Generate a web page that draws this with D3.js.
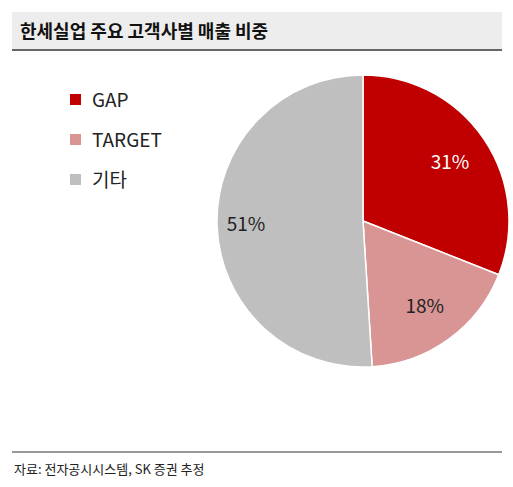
<!DOCTYPE html><html><head><meta charset="utf-8"><script src="https://cdn.jsdelivr.net/npm/d3@7"></script>
<style>body{margin:0;background:#fff}</style></head><body><svg id="c" width="513" height="487"></svg>
<script>
const categories=["GAP","TARGET","기타"];
const values=[31,18,51];
const labels=["31%","18%","51%"];
const colors=["#c00000","#d99594","#bfbfbf"];
const svg=d3.select("#c");
const font="'Noto Sans CJK KR','Noto Sans',sans-serif";
svg.append("rect").attr("x",12).attr("y",12).attr("width",490).attr("height",37).attr("fill","#ededed");
svg.append("line").attr("x1",12).attr("x2",502).attr("y1",50).attr("y2",50).attr("stroke","#333").attr("stroke-width",1.5);
svg.append("text").attr("x",20).attr("y",38).text("한세실업 주요 고객사별 매출 비중").attr("font-family",font).attr("font-weight","bold").attr("font-size",18).attr("fill","#111");
svg.append("line").attr("x1",12).attr("x2",502).attr("y1",452).attr("y2",452).attr("stroke","#333").attr("stroke-width",1);
svg.append("text").attr("x",14).attr("y",474).text("자료: 전자공시시스템, SK 증권 추정").attr("font-family",font).attr("font-size",13).attr("fill","#222");
const cx=363,cy=221,r=146;
const pie=d3.pie().sort(null).value(d=>d)(values);
const arc=d3.arc().innerRadius(0).outerRadius(r);
const g=svg.append("g").attr("transform",`translate(${cx},${cy})`);
g.selectAll("path").data(pie).join("path").attr("d",arc).attr("fill",(d,i)=>colors[i]).attr("stroke","#fff").attr("stroke-width",1.5);
const la=d3.arc().innerRadius(r*0.72).outerRadius(r*0.72);
g.selectAll("text").data(pie).join("text").attr("transform",(d,i)=>{const c=la.centroid(d);return `translate(${c[0]+(i==2?-12:0)},${c[1]})`;})
 .attr("text-anchor","middle").attr("dy","0.35em").text((d,i)=>labels[i]).attr("font-family",font).attr("font-size",19).attr("fill",(d,i)=>i==0?"#fff":"#222");
const lg=svg.append("g");
categories.forEach((c,i)=>{const y=100+i*40;
 lg.append("rect").attr("x",70).attr("y",y-6).attr("width",11).attr("height",11).attr("fill",colors[i]);
 lg.append("text").attr("x",92).attr("y",y).attr("dy","0.35em").text(c).attr("font-family",font).attr("font-size",19).attr("fill","#222");});
</script></body></html>
